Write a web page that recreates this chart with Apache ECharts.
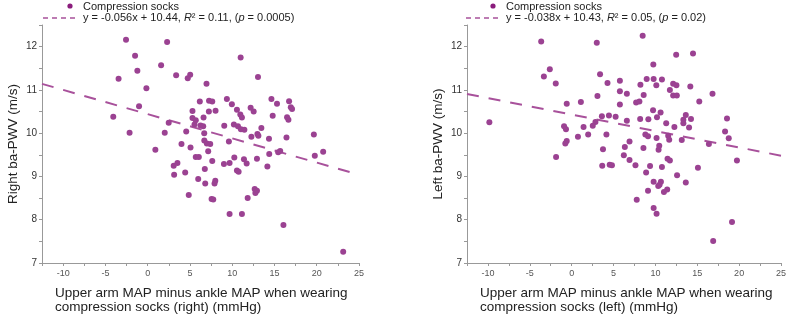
<!DOCTYPE html>
<html>
<head>
<meta charset="utf-8">
<script src="https://cdn.jsdelivr.net/npm/echarts@6/dist/echarts.min.js"></script>
<style>html,body{margin:0;padding:0;background:#fff}#c{width:789px;height:317px}</style>
</head>
<body>
<div id="c"></div>
<script>
// Panel A: Right ba-PWV vs MAP difference (right)
const rightMapDiff = [-2.56,2.30,-1.49,1.59,-1.22,-3.44,3.37,5.03,4.74,-0.15,6.96,6.17,7.26,7.64,-1.02,-4.07,5.30,5.30,5.69,6.61,2.49,5.54,6.25,6.57,-2.14,2.02,4.56,6.69,6.70,7.00,7.40,4.00,5.07,0.91,5.69,6.05,7.16,11.00,13.05,9.37,9.96,10.56,10.96,11.15,12.18,12.54,14.64,15.30,16.73,16.93,17.08,14.79,16.49,16.65,7.24,8.03,9.06,10.20,10.68,11.03,11.44,13.45,12.27,12.98,13.10,14.35,9.61,16.42,19.66,14.38,15.44,15.68,19.77,20.76,10.25,11.39,12.93,3.08,3.52,3.13,4.44,6.76,5.98,6.81,4.86,7.56,7.76,7.64,8.00,7.91,9.02,9.69,11.71,10.56,10.76,14.16,12.66,12.93,12.74,11.83,9.69,11.15,16.06,23.13];
const rightPwv = [12.16,12.11,11.79,11.57,11.44,11.26,11.34,11.35,11.27,11.04,11.14,10.73,10.75,10.73,10.62,10.38,10.51,10.35,10.30,10.36,10.24,10.20,10.18,10.16,10.01,10.01,10.04,10.00,9.83,9.76,9.75,9.75,9.67,9.62,9.45,9.45,9.58,11.75,11.30,10.79,10.67,10.54,10.43,10.36,10.59,10.50,10.79,10.68,10.74,10.60,10.56,10.40,10.37,10.31,10.50,10.52,10.17,10.20,10.16,10.09,10.08,10.12,9.92,9.98,9.94,9.87,9.81,9.90,9.97,9.52,9.56,9.59,9.48,9.57,9.44,9.40,9.41,9.25,9.31,9.04,9.09,9.17,8.94,8.84,8.57,8.48,8.47,9.36,8.90,8.84,9.29,9.31,9.30,9.14,9.11,9.23,8.71,8.67,8.62,8.50,8.13,8.13,7.88,7.26];
// Panel B: Left ba-PWV vs MAP difference (left)
const leftMapDiff = [-3.64,3.00,-2.61,-3.32,-1.90,3.39,4.28,3.08,1.10,-0.59,-9.83,3.61,4.45,2.84,2.52,-0.91,-0.68,1.42,1.97,0.75,4.15,-0.59,-0.76,3.74,-1.86,8.48,12.48,14.49,9.75,5.76,5.76,6.59,8.21,8.96,9.79,10.78,10.11,12.12,12.51,11.73,12.12,12.56,14.17,16.82,15.24,8.60,7.70,8.09,5.76,5.25,9.72,10.62,10.19,6.59,8.18,9.16,11.29,12.27,13.63,13.34,13.34,14.25,14.02,18.55,18.32,18.76,6.91,8.80,9.12,10.14,11.53,11.65,13.15,16.39,6.35,8.57,10.46,10.38,6.23,11.45,11.73,6.91,19.74,3.65,4.54,4.81,7.62,8.89,9.36,10.78,12.59,15.08,9.79,10.66,10.34,10.50,9.12,11.41,11.02,13.63,7.77,9.79,10.14,19.15,16.90];
const leftPwv = [12.12,12.09,11.48,11.31,11.15,11.36,11.16,10.86,10.72,10.68,10.25,10.39,10.41,10.26,10.17,10.16,10.09,10.14,9.97,9.92,9.97,9.82,9.76,9.63,9.45,12.25,11.81,11.84,11.59,11.21,10.97,10.91,11.12,11.25,11.25,11.24,11.11,11.14,11.11,11.00,10.87,10.87,11.08,10.91,10.73,10.88,10.71,10.73,10.66,10.38,10.53,10.48,10.37,10.29,10.33,10.32,10.23,10.14,10.42,10.31,10.23,10.33,10.13,10.34,10.04,9.88,9.81,9.97,9.93,9.89,9.94,9.85,9.84,9.75,9.68,9.66,9.71,9.62,9.49,9.41,9.37,9.38,9.37,9.25,9.27,9.26,9.26,9.09,9.24,9.22,9.03,9.20,8.88,8.88,8.78,8.81,8.67,8.70,8.64,8.86,8.46,8.27,8.14,7.95,7.51];
// Regression equations shown in the legends
const rightFit = {slope: -0.056, intercept: 10.44, label: 'y = -0.056x + 10.44, ', r2: '0.11', p: '0.0005'};
const leftFit = {slope: -0.038, intercept: 10.43, label: 'y = -0.038x + 10.43, ', r2: '0.05', p: '0.02'};
const xRange = [-12.5, 25];
const yRange = [7, 12.5];
const yTitles = ['Right ba-PWV (m/s)', 'Left ba-PWV (m/s)'];
const xTitles = ['Upper arm MAP minus ankle MAP when wearing\ncompression socks (right) (mmHg)',
                 'Upper arm MAP minus ankle MAP when wearing\ncompression socks (left) (mmHg)'];
const legendName = 'Compression socks';

const FONT = '"Liberation Sans", Arial, sans-serif';
const PT = '#9b4292', LINE = '#a8519b', DOT = '#8a1c7c';

function zip(a, b) { return a.map((v, i) => [v, b[i]]); }
function fitLine(f) { return xRange.map(x => [x, +(f.intercept + f.slope * x).toFixed(3)]); }

const grids = [
  {left: 42, right: 430, top: 25, bottom: 54},
  {left: 467, right: 6, top: 25, bottom: 54}
];
function xAxis(i) {
  return {
    type: 'value', gridIndex: i, min: xRange[0], max: xRange[1], interval: 2.5,
    axisLine: {onZero: false, lineStyle: {color: '#999', width: 1}},
    axisTick: {length: 3, lineStyle: {color: '#999'}},
    splitLine: {show: false},
    axisLabel: {fontSize: 9, color: '#555', fontFamily: FONT, margin: 6,
      formatter: v => (Math.abs(v % 5) < 1e-9 ? String(v) : '')}
  };
}
function yAxis(i) {
  return {
    type: 'value', gridIndex: i, min: yRange[0], max: yRange[1], interval: 0.5,
    name: yTitles[i], nameLocation: 'middle', nameGap: 22,
    nameTextStyle: {fontSize: 13.5, color: '#222', fontFamily: FONT},
    axisLine: {show: true, onZero: false, lineStyle: {color: '#999', width: 1}},
    axisTick: {show: true, length: 3, lineStyle: {color: '#999'}},
    splitLine: {show: false},
    axisLabel: {fontSize: 10, color: '#333', fontFamily: FONT, margin: 5,
      formatter: v => (Math.abs(v % 1) < 1e-9 ? String(v) : '')}
  };
}
function scatter(i, xs, ys) {
  return {type: 'scatter', name: legendName, xAxisIndex: i, yAxisIndex: i, data: zip(xs, ys),
    symbolSize: 6, itemStyle: {color: PT, opacity: 1}, silent: true};
}
function trend(i, f) {
  return {type: 'line', xAxisIndex: i, yAxisIndex: i, data: fitLine(f), symbol: 'none',
    lineStyle: {color: LINE, width: 2, type: [12, 10]}, silent: true, z: 1};
}
function legendGraphics(x0, f) {
  return [
    {type: 'circle', shape: {cx: x0 + 27, cy: 6, r: 2.6}, style: {fill: DOT}},
    {type: 'text', style: {x: x0 + 40, y: 7, text: legendName, fontSize: 11, fontFamily: FONT, fill: '#222', verticalAlign: 'middle'}},
    {type: 'line', shape: {x1: x0, y1: 18, x2: x0 + 32, y2: 18}, style: {stroke: LINE, lineWidth: 1.3, lineDash: [5, 4]}},
    {type: 'text', style: {x: x0 + 40, y: 18, verticalAlign: 'middle',
      text: f.label + '{i|R}² = ' + f.r2 + ', ({i|p} = ' + f.p + ')',
      fontSize: 11, fontFamily: FONT, fill: '#222',
      rich: {i: {fontStyle: 'italic', fontSize: 11, fontFamily: FONT, fill: '#222'}}}}
  ];
}
function xTitle(x, t) {
  return {type: 'text', style: {x: x, y: 286, text: t, fontSize: 13.5, lineHeight: 14, fontFamily: FONT, fill: '#222'}};
}

const chart = echarts.init(document.getElementById('c'), null, {renderer: 'canvas'});
chart.setOption({
  animation: false,
  backgroundColor: '#fff',
  grid: grids,
  xAxis: [xAxis(0), xAxis(1)],
  yAxis: [yAxis(0), yAxis(1)],
  series: [trend(0, rightFit), scatter(0, rightMapDiff, rightPwv), trend(1, leftFit), scatter(1, leftMapDiff, leftPwv)],
  graphic: [].concat(legendGraphics(43, rightFit), legendGraphics(466, leftFit),
    [xTitle(55, xTitles[0]), xTitle(480, xTitles[1])])
});
</script>
</body>
</html>
